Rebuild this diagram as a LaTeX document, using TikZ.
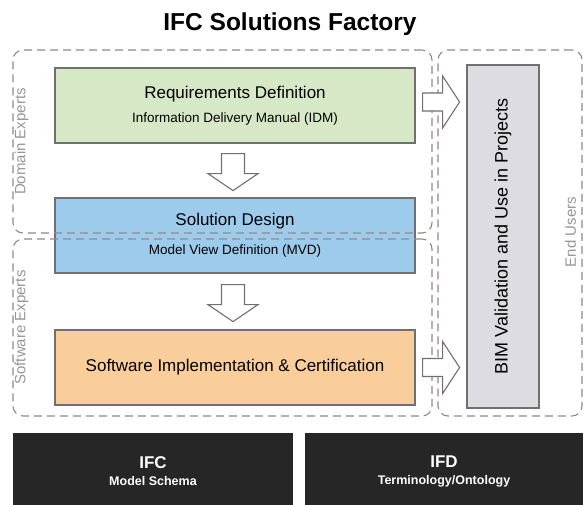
\documentclass[tikz,border=0pt]{standalone}
\usepackage{fontspec}
\setmainfont{Liberation Sans}
\definecolor{reqgreen}{RGB}{214,232,197}
\definecolor{desblue}{RGB}{157,203,236}
\definecolor{softorange}{RGB}{250,206,155}
\definecolor{bimgray}{RGB}{221,221,225}
\definecolor{bardark}{RGB}{38,38,38}
\definecolor{edgegray}{RGB}{112,112,112}
\definecolor{dashgray}{RGB}{145,137,132}
\definecolor{labelgray}{RGB}{150,150,150}
\tikzset{
  stagebox/.style={draw=edgegray, line width=1.2pt, minimum width=360pt, minimum height=75pt, inner sep=0pt, align=center},
  groupbox/.style={draw=dashgray, line width=1.1pt, dash pattern=on 8pt off 5pt, rounded corners=10pt, inner sep=0pt},
  grouplabel/.style={rotate=90, text=labelgray, inner sep=0pt, font=\fontsize{15}{18}\selectfont},
  basebar/.style={fill=bardark, inner sep=0pt, text=white, align=center, font=\bfseries},
  blockarrow/.style={draw=edgegray, line width=1.1pt, fill=white, line join=miter},
}
\begin{document}
\begin{tikzpicture}[x=1pt,y=-1pt]
  \useasboundingbox (0,0) rectangle (585,504);
  \node (title) at (290,24) {\fontsize{24.5}{28}\selectfont\bfseries IFC Solutions Factory};
  % the three stages
  \node[stagebox, fill=reqgreen] (req) at (235,105.5)
    {\fontsize{17}{20}\selectfont Requirements Definition\\[9.5pt]\fontsize{13.5}{16}\selectfont Information Delivery Manual (IDM)};
  \node[stagebox, fill=desblue] (des) at (235,235.5)
    {\fontsize{17}{20}\selectfont Solution Design\\[15pt]\fontsize{13.5}{16}\selectfont Model View Definition (MVD)};
  \node[stagebox, fill=softorange] (soft) at (235,367.5)
    {\fontsize{17}{20}\selectfont Software Implementation \& Certification};
  \node[draw=edgegray, line width=1.2pt, fill=bimgray, rotate=90, minimum width=343pt, minimum height=72pt, inner sep=0pt] (bim) at (503,236.5)
    {\fontsize{18}{21}\selectfont BIM Validation and Use in Projects};
  % groups of people
  \node[groupbox, minimum width=419pt, minimum height=183pt] (dom) at (222.5,141.5) {};
  \node[groupbox, minimum width=419pt, minimum height=177pt] (sw) at (222.5,327.5) {};
  \node[groupbox, minimum width=144pt, minimum height=366pt] (users) at (510,233) {};
  \node[grouplabel] (domlbl) at ([xshift=9pt]dom.west) {Domain Experts};
  \node[grouplabel] (swlbl) at ([xshift=9pt]sw.west) {Software Experts};
  \node[grouplabel] (userslbl) at ([xshift=-12pt,yshift=1pt]users.east) {End Users};
  % block arrows
  \coordinate (d1) at ([xshift=-2pt,yshift=-10pt]req.south);
  \coordinate (d2) at ([xshift=-2pt,yshift=-11pt]des.south);
  \coordinate (r1) at ([xshift=7pt,yshift=3.5pt]req.east);
  \coordinate (r2) at ([xshift=7pt]soft.east);
  \foreach \p in {d1,d2}
    \draw[blockarrow, shift={(\p)}] (-11.5,0) -- (11.5,0) -- (11.5,20) -- (25,20) -- (0,37) -- (-25,20) -- (-11.5,20) -- cycle;
  \foreach \p in {r1,r2}
    \draw[blockarrow, shift={(\p)}] (0,-9) -- (20,-9) -- (20,-26) -- (37,0) -- (20,26) -- (20,9) -- (0,9) -- cycle;
  % foundations
  \node[basebar, minimum width=280pt, minimum height=77pt] (ifc) at (153,471.5)
    {\fontsize{17}{20}\selectfont IFC\\[5pt]\fontsize{12.5}{15}\selectfont Model Schema};
  \node[basebar, minimum width=278pt, minimum height=77pt] (ifd) at (444,471.5)
    {\fontsize{17}{20}\selectfont IFD\\[5pt]\fontsize{12.5}{15}\selectfont Terminology/Ontology};
\end{tikzpicture}
\end{document}
